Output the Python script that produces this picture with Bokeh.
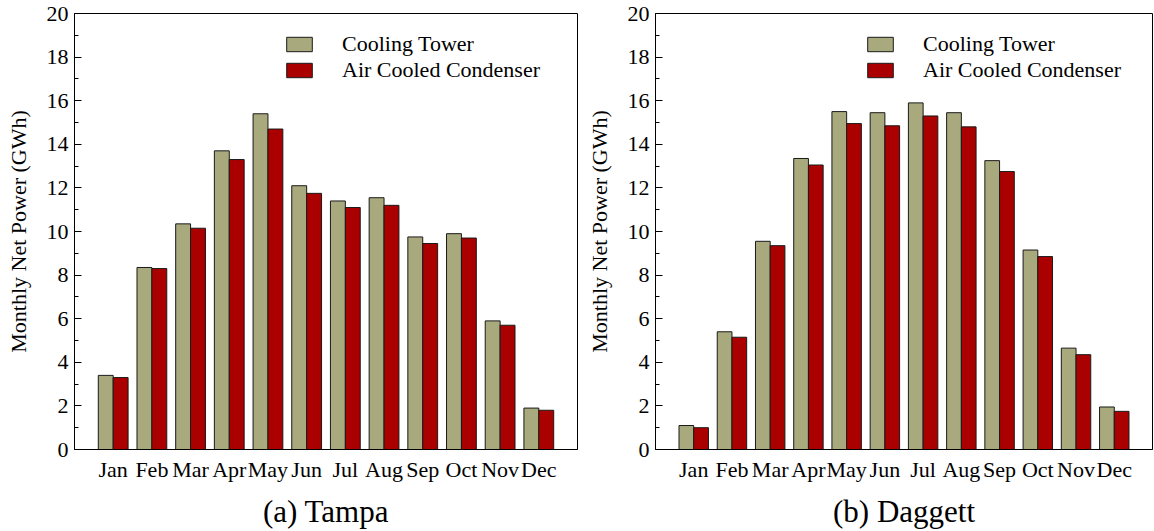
from bokeh.plotting import figure
from bokeh.layouts import row
from bokeh.models import FixedTicker, Legend, LegendItem, ColumnDataSource
from bokeh.embed import file_html
from bokeh.resources import INLINE

months = ["Jan", "Feb", "Mar", "Apr", "May", "Jun", "Jul", "Aug", "Sep", "Oct", "Nov", "Dec"]
tampa_ct = [3.4, 8.35, 10.35, 13.7, 15.4, 12.1, 11.4, 11.55, 9.75, 9.9, 5.9, 1.9]
tampa_acc = [3.3, 8.3, 10.15, 13.3, 14.7, 11.75, 11.1, 11.2, 9.45, 9.7, 5.7, 1.8]
daggett_ct = [1.1, 5.4, 9.55, 13.35, 15.5, 15.45, 15.9, 15.45, 13.25, 9.15, 4.65, 1.95]
daggett_acc = [1.0, 5.15, 9.35, 13.05, 14.95, 14.85, 15.3, 14.8, 12.75, 8.85, 4.35, 1.75]
series_names = ["Cooling Tower", "Air Cooled Condenser"]
subtitles = ["(a) Tampa", "(b) Daggett"]
y_label = "Monthly Net Power (GWh)"
y_ticks = list(range(0, 21, 2))

CT_COLOR = "#a9a97e"
ACC_COLOR = "#aa0000"
EDGE = "#1a1a1a"
FONT = "Liberation Serif"
BW = 0.385


def make_panel(ct, acc, subtitle, width, border_left, border_right):
    p = figure(width=width, height=531, x_range=(0, 13), y_range=(0, 20),
               output_backend="svg", toolbar_location=None,
               min_border_left=border_left, min_border_right=border_right,
               min_border_top=13, min_border_bottom=82)
    xs = list(range(1, 13))
    src = ColumnDataSource(dict(x_ct=[x - BW / 2 for x in xs], x_acc=[x + BW / 2 for x in xs],
                                ct=ct, acc=acc))
    r1 = p.vbar(x="x_ct", top="ct", width=BW, bottom=0, source=src,
                fill_color=CT_COLOR, line_color=EDGE, line_width=1)
    r2 = p.vbar(x="x_acc", top="acc", width=BW, bottom=0, source=src,
                fill_color=ACC_COLOR, line_color=EDGE, line_width=1)

    p.xgrid.visible = False
    p.ygrid.visible = False
    p.outline_line_color = "black"
    p.outline_line_width = 1
    p.border_fill_alpha = 0

    xa = p.xaxis[0]
    xa.ticker = FixedTicker(ticks=xs)
    xa.major_label_overrides = {i + 1: m for i, m in enumerate(months)}
    xa.major_tick_in = 0
    xa.major_tick_out = 0
    xa.minor_tick_in = 0
    xa.minor_tick_out = 0
    xa.axis_line_color = "black"
    xa.major_label_text_font = FONT
    xa.major_label_text_font_size = "22px"
    xa.major_label_text_color = "black"
    xa.major_label_standoff = 7
    xa.axis_label = subtitle
    xa.axis_label_text_font = FONT
    xa.axis_label_text_font_size = "31px"
    xa.axis_label_text_font_style = "normal"
    xa.axis_label_text_color = "black"
    xa.axis_label_standoff = 9

    ya = p.yaxis[0]
    ya.ticker = FixedTicker(ticks=y_ticks, minor_ticks=list(range(1, 20, 2)))
    ya.major_tick_in = 7
    ya.major_tick_out = 0
    ya.minor_tick_in = 4
    ya.minor_tick_out = 0
    ya.axis_line_color = "black"
    ya.major_tick_line_color = "black"
    ya.minor_tick_line_color = "black"
    ya.major_label_text_font = FONT
    ya.major_label_text_font_size = "22px"
    ya.major_label_text_color = "black"
    ya.major_label_standoff = 6
    ya.axis_label = y_label
    ya.axis_label_text_font = FONT
    ya.axis_label_text_font_size = "22px"
    ya.axis_label_text_font_style = "normal"
    ya.axis_label_text_color = "black"
    ya.axis_label_standoff = 13

    legend = Legend(items=[LegendItem(label=series_names[0], renderers=[r1]),
                           LegendItem(label=series_names[1], renderers=[r2])],
                    location=(209, 366))
    legend.border_line_color = None
    legend.background_fill_alpha = 0
    legend.padding = 0
    legend.margin = 0
    legend.spacing = 0
    legend.glyph_width = 32
    legend.glyph_height = 18
    legend.label_height = 18
    legend.label_standoff = 27
    legend.label_text_font = FONT
    legend.label_text_font_size = "22px"
    legend.label_text_color = "black"
    p.add_layout(legend, "center")
    return p


p1 = make_panel(tampa_ct, tampa_acc, subtitles[0], 583, 74, 6)
p2 = make_panel(daggett_ct, daggett_acc, subtitles[1], 570, 67, 1)
layout = row(p1, p2, spacing=0)

open("out.html", "w").write(file_html(layout, INLINE))
